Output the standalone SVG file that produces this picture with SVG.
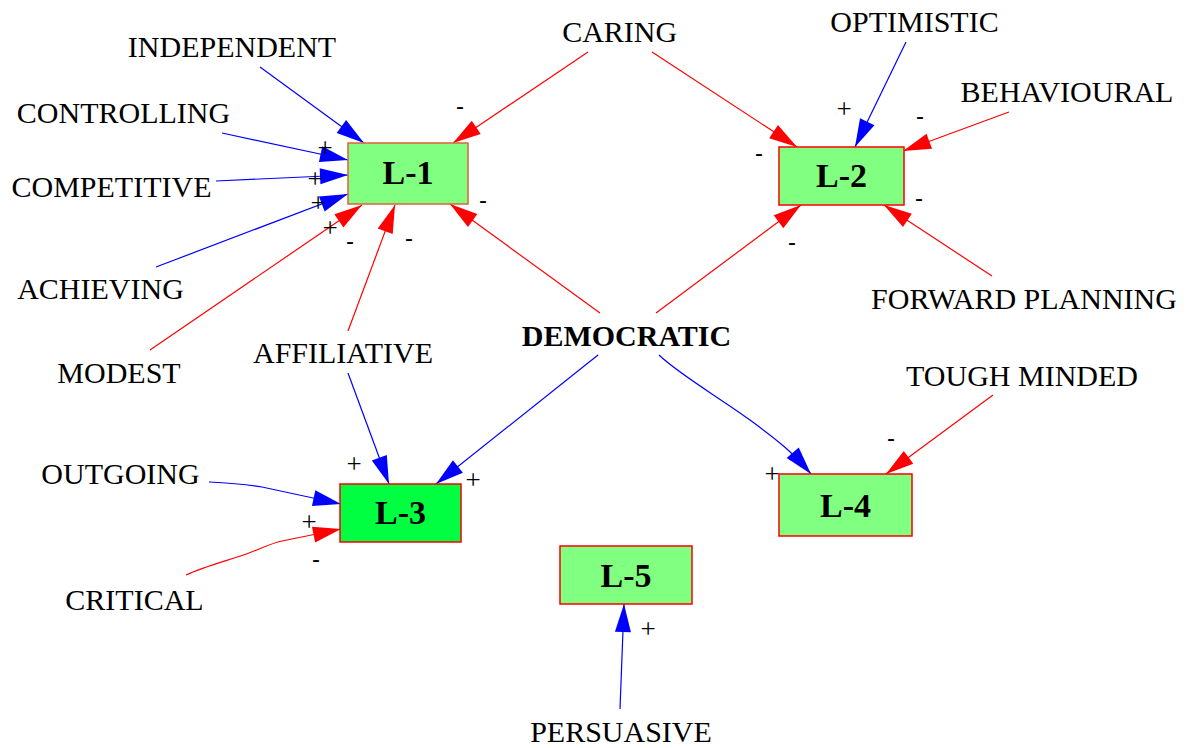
<svg xmlns="http://www.w3.org/2000/svg" width="1191" height="748" viewBox="0 0 1191 748">
<style>
.lbl{font-family:"Liberation Serif","Times New Roman",serif;font-size:30px;fill:#000;text-anchor:middle}
.box{fill:#80ff80;stroke:#ff0000;stroke-width:1.5}
.bt{font-family:"Liberation Serif","Times New Roman",serif;font-size:34px;font-weight:bold;fill:#000;text-anchor:middle}
.pos{fill:none;stroke:#0000ff;stroke-width:1.2;marker-end:url(#ab)}
.neg{fill:none;stroke:#ff0000;stroke-width:1.2;marker-end:url(#ar)}
.p{font-family:"Liberation Serif","Times New Roman",serif;font-size:27px;fill:#000;text-anchor:middle}
.m{font-family:"Liberation Sans",Arial,sans-serif;font-size:24px;fill:#000;text-anchor:middle}
</style>
<defs>
<marker id="ab" markerUnits="userSpaceOnUse" markerWidth="30" markerHeight="18" refX="28" refY="8" orient="auto" overflow="visible"><path d="M0,0 L28,8 L0,16 z" fill="#0000ff"/></marker>
<marker id="ar" markerUnits="userSpaceOnUse" markerWidth="30" markerHeight="18" refX="28" refY="8" orient="auto" overflow="visible"><path d="M0,0 L28,8 L0,16 z" fill="#ff0000"/></marker>
</defs>
<rect width="1191" height="748" fill="#fff"/>
<g id="connectors">
<path class="pos" d="M260,67 L364,143"/>
<path class="pos" d="M222,133 L348,160"/>
<path class="pos" d="M216,181 L348,175"/>
<path class="pos" d="M156,267 L348,194"/>
<path class="neg" d="M150,350 L362,205"/>
<path class="neg" d="M348,331 L395,205"/>
<path class="neg" d="M600,313 L450,204"/>
<path class="neg" d="M588,52 L453,143"/>
<path class="neg" d="M652,52 L797,147"/>
<path class="pos" d="M906,42 L855,147"/>
<path class="neg" d="M1009,112 L903,151"/>
<path class="neg" d="M992,276 L884,205"/>
<path class="neg" d="M656,313 L801,205"/>
<path class="pos" d="M598,355 L436,484"/>
<path class="pos" d="M659,355 C680,375 720,398 750,420 S792,452 811,474"/>
<path class="pos" d="M348,373 L389,484"/>
<path class="pos" d="M209,482 C230,483 250,485 262,487 L341,504"/>
<path class="neg" d="M186,575 C205,566 230,560 249,553 C262,548 272,543 282,541 L341,529"/>
<path class="neg" d="M993,395 L886,474"/>
<path class="pos" d="M620,709 L624,604"/>
<g id="signs">
<text class="p" x="325" y="157">+</text>
<text class="p" x="315" y="188">+</text>
<text class="p" x="318" y="212">+</text>
<text class="p" x="330" y="237">+</text>
<text class="m" x="350" y="249">-</text>
<text class="m" x="409" y="246">-</text>
<text class="m" x="483" y="208">-</text>
<text class="m" x="460" y="114">-</text>
<text class="p" x="844" y="118">+</text>
<text class="m" x="920" y="124">-</text>
<text class="m" x="759" y="161">-</text>
<text class="m" x="919" y="206">-</text>
<text class="m" x="792" y="250">-</text>
<text class="p" x="354" y="473">+</text>
<text class="p" x="473" y="489">+</text>
<text class="p" x="309" y="531">+</text>
<text class="m" x="316" y="567">-</text>
<text class="p" x="772" y="483">+</text>
<text class="m" x="891" y="446">-</text>
<text class="p" x="648" y="638">+</text>
</g>
</g>
<g id="L-1"><rect class="box" x="348" y="143" width="120" height="61" style="stroke:#e0603c"/><text class="bt" x="408" y="184">L-1</text></g>
<g id="L-2"><rect class="box" x="779" y="147" width="125" height="58"/><text class="bt" x="841.5" y="187">L-2</text></g>
<g id="L-3"><rect class="box" x="340" y="484" width="121" height="58" style="fill:#00ff40"/><text class="bt" x="400.5" y="524">L-3</text></g>
<g id="L-4"><rect class="box" x="779" y="474" width="133" height="62"/><text class="bt" x="845.5" y="517">L-4</text></g>
<g id="L-5"><rect class="box" x="560" y="546" width="132" height="58"/><text class="bt" x="626" y="587">L-5</text></g>
<g id="DEMOCRATIC"><text x="626.5" y="346" style="font-family:'Liberation Serif','Times New Roman',serif;font-size:30px;font-weight:bold;text-anchor:middle">DEMOCRATIC</text></g>
<g id="INDEPENDENT"><text class="lbl" x="232" y="57">INDEPENDENT</text></g>
<g id="CONTROLLING"><text class="lbl" x="123.5" y="123">CONTROLLING</text></g>
<g id="COMPETITIVE"><text class="lbl" x="111.5" y="197">COMPETITIVE</text></g>
<g id="ACHIEVING"><text class="lbl" x="100.5" y="299">ACHIEVING</text></g>
<g id="MODEST"><text class="lbl" x="119" y="383">MODEST</text></g>
<g id="AFFILIATIVE"><text class="lbl" x="343" y="363">AFFILIATIVE</text></g>
<g id="CARING"><text class="lbl" x="619.7" y="42">CARING</text></g>
<g id="OPTIMISTIC"><text class="lbl" x="914.5" y="32">OPTIMISTIC</text></g>
<g id="BEHAVIOURAL"><text class="lbl" x="1067" y="102">BEHAVIOURAL</text></g>
<g id="FORWARD_PLANNING"><text class="lbl" x="1024" y="309">FORWARD PLANNING</text></g>
<g id="TOUGH_MINDED"><text class="lbl" x="1022" y="386">TOUGH MINDED</text></g>
<g id="OUTGOING"><text class="lbl" x="120.5" y="484">OUTGOING</text></g>
<g id="CRITICAL"><text class="lbl" x="134.5" y="610">CRITICAL</text></g>
<g id="PERSUASIVE"><text class="lbl" x="621" y="742">PERSUASIVE</text></g>
</svg>
